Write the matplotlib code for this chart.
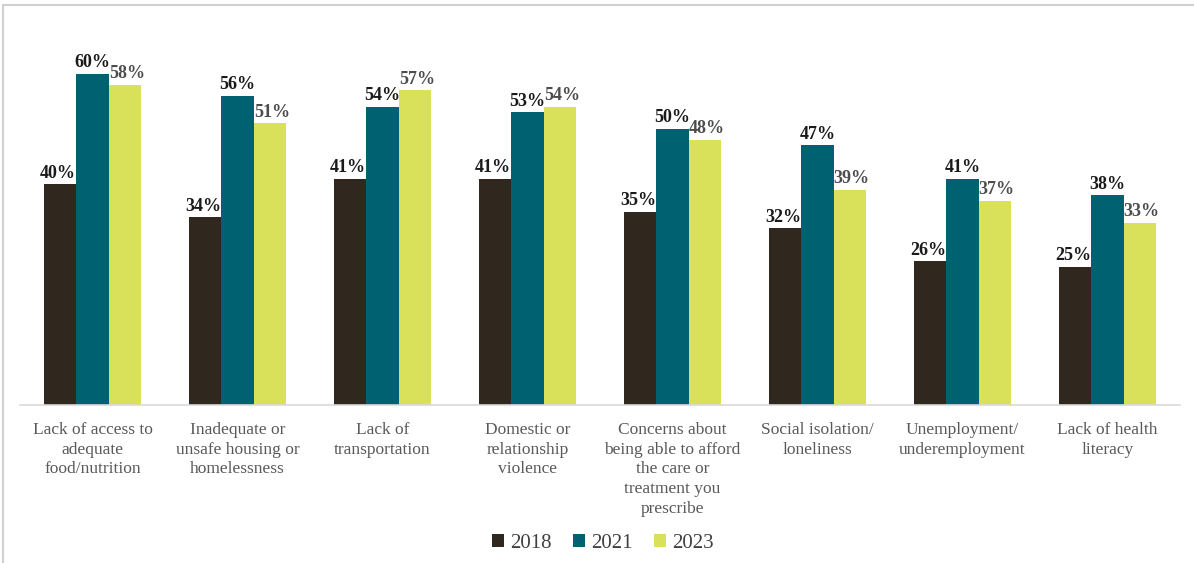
import matplotlib
matplotlib.use("Agg")
import matplotlib.pyplot as plt
import numpy as np
from matplotlib.patches import Rectangle

categories = ["Lack of access to\nadequate\nfood/nutrition",
              "Inadequate or\nunsafe housing or\nhomelessness",
              "Lack of\ntransportation",
              "Domestic or\nrelationship\nviolence",
              "Concerns about\nbeing able to afford\nthe care or\ntreatment you\nprescribe",
              "Social isolation/\nloneliness",
              "Unemployment/\nunderemployment",
              "Lack of health\nliteracy"]
years = ["2018", "2021", "2023"]
v2018 = [40, 34, 41, 41, 35, 32, 26, 25]
v2021 = [60, 56, 54, 53, 50, 47, 41, 38]
v2023 = [58, 51, 57, 54, 48, 39, 37, 33]

colors = ["#30281e", "#006170", "#d9e05a"]
label_colors = ["#1a1a1a", "#1a1a1a", "#4d4d4d"]

W, H = 1194, 563
fig = plt.figure(figsize=(W/100, H/100), dpi=100)
plt.rcParams['font.family'] = ['Liberation Serif', 'DejaVu Serif']

ax = fig.add_axes([20/W, (H-405)/H, 1160/W, 359/H])
x = np.arange(len(categories))
bw = 0.222
series = [v2018, v2021, v2023]
offsets = [-0.015, 0.0, 0.015]
for i, (vals, c, lc, yr) in enumerate(zip(series, colors, label_colors, years)):
    pos = x + (i-1)*bw
    ax.bar(pos, vals, width=bw, color=c, label=yr, zorder=2)
    for p, v in zip(pos, vals):
        ax.text(p + offsets[i], v + 0.45, f"{v}%", ha="center", va="bottom", fontsize=13,
                fontweight="bold", color=lc)

ax.set_xlim(-0.5, len(categories)-0.5)
ax.set_ylim(0, 65)
for s in ["top", "right", "left"]:
    ax.spines[s].set_visible(False)
ax.spines["bottom"].set_color("#d9d9d9")
ax.spines["bottom"].set_linewidth(1.2)
ax.set_yticks([])
ax.set_xticks(x)
ax.set_xticklabels(categories, fontsize=12.5, color="#595959", linespacing=1.32)
ax.tick_params(axis="x", length=0, pad=12)

leg = fig.legend(loc="center", bbox_to_anchor=(0.505, (H-543)/H), ncol=3, frameon=False,
                 fontsize=15, handlelength=0.6, handleheight=0.6, handletextpad=0.3,
                 columnspacing=1.0, labelcolor="#404040")

fig.patches.append(Rectangle((3/W, -0.1), 1.2, 0.1 + (H-5)/H, transform=fig.transFigure,
                             fill=False, edgecolor="#d0d0d0", linewidth=1.5))

fig.savefig("out.png", dpi=100)
